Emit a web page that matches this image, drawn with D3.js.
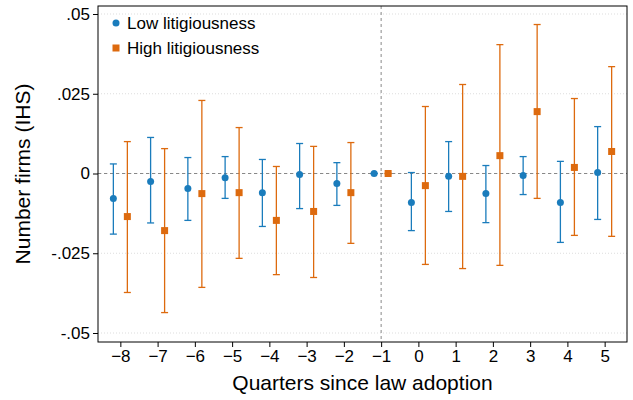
<!DOCTYPE html>
<html><head><meta charset="utf-8">
<script src="https://cdn.jsdelivr.net/npm/d3@7"></script>
<style>body{margin:0;background:#fff}svg{font-family:"Liberation Sans",Arial,sans-serif}</style>
</head><body><svg id="c" width="633" height="400"></svg>
<script>
var quarters = [-8,-7,-6,-5,-4,-3,-2,-1,0,1,2,3,4,5];
var lowEst = [-.0078,-.0025,-.0047,-.0013,-.006,-.0003,-.0031,0,-.0091,-.0009,-.0063,-.0006,-.0091,.0003];
var lowHi  = [.003,.0113,.005,.0053,.0044,.0094,.0034,0,.0003,.01,.0025,.0053,.0038,.0147];
var lowLo  = [-.019,-.0155,-.0147,-.0078,-.0166,-.011,-.01,0,-.0179,-.0119,-.0154,-.0066,-.0216,-.0144];
var highEst = [-.0135,-.0179,-.0063,-.006,-.0147,-.0119,-.006,0,-.0038,-.0009,.0056,.0194,.0019,.0069];
var highHi  = [.01,.0078,.0229,.0144,.0022,.0085,.0097,0,.021,.0279,.0404,.0467,.0235,.0335];
var highLo  = [-.0373,-.0436,-.0357,-.0266,-.0317,-.0326,-.0219,0,-.0285,-.0298,-.0288,-.0078,-.0194,-.0197];
var yTicks = [-.05,-.025,0,.025,.05];
var yLabels = ["-.05","-.025","0",".025",".05"];

var svg = d3.select("#c");
var L = 98, R = 627, T = 6, B = 342;
var x = d3.scaleLinear().domain([-8.6,5.6]).range([L,R]);
var y = d3.scaleLinear().domain([-.05,.05]).range([333,14]);
var blue = "#1a7cbc", orange = "#dd6a0e";

// grid
svg.selectAll(".g").data(yTicks).enter().append("line")
  .attr("x1",L).attr("x2",R).attr("y1",d=>y(d)).attr("y2",d=>y(d))
  .attr("stroke","#ddd").attr("stroke-dasharray","1,2");
svg.append("line").attr("x1",L).attr("x2",R).attr("y1",y(0)).attr("y2",y(0))
  .attr("stroke","#888").attr("stroke-dasharray","3,3");
svg.append("line").attr("x1",x(-1)).attr("x2",x(-1)).attr("y1",T).attr("y2",B)
  .attr("stroke","#888").attr("stroke-dasharray","3,3");
svg.append("rect").attr("x",L).attr("y",T).attr("width",R-L).attr("height",B-T)
  .attr("fill","none").attr("stroke","#000");

// axes
var ya = svg.append("g").attr("transform","translate("+L+",0)")
  .call(d3.axisLeft(y).tickValues(yTicks).tickFormat((d,i)=>yLabels[i]).tickSize(5));
var xa = svg.append("g").attr("transform","translate(0,"+B+")")
  .call(d3.axisBottom(x).tickValues(quarters).tickSize(5));
[ya,xa].forEach(function(a){a.select(".domain").remove();a.selectAll("text").attr("font-size",17).attr("fill","#000");});
svg.append("text").attr("x",(L+R)/2).attr("y",390).attr("text-anchor","middle").attr("font-size",21).text("Quarters since law adoption");
svg.append("text").attr("transform","translate(30,"+((T+B)/2)+") rotate(-90)").attr("text-anchor","middle").attr("font-size",21).text("Number firms (IHS)");

function series(est, hi, lo, off, col, sq){
  var g = svg.append("g").attr("stroke",col).attr("stroke-width",1.3);
  quarters.forEach(function(q,i){
    var cx = x(q)+off;
    g.append("line").attr("x1",cx).attr("x2",cx).attr("y1",y(hi[i])).attr("y2",y(lo[i]));
    [hi[i],lo[i]].forEach(function(v){
      g.append("line").attr("x1",cx-3.5).attr("x2",cx+3.5).attr("y1",y(v)).attr("y2",y(v));
    });
    if(sq) svg.append("rect").attr("x",cx-3.5).attr("y",y(est[i])-3.5).attr("width",7).attr("height",7).attr("fill",col);
    else svg.append("circle").attr("cx",cx).attr("cy",y(est[i])).attr("r",3.5).attr("fill",col);
  });
}
series(lowEst,lowHi,lowLo,-7,blue,false);
series(highEst,highHi,highLo,7,orange,true);

// legend
svg.append("circle").attr("cx",116).attr("cy",23).attr("r",3.5).attr("fill",blue);
svg.append("text").attr("x",127).attr("y",29).attr("font-size",17).text("Low litigiousness");
svg.append("rect").attr("x",112.5).attr("y",44.5).attr("width",7).attr("height",7).attr("fill",orange);
svg.append("text").attr("x",127).attr("y",54).attr("font-size",17).text("High litigiousness");
</script></body></html>
